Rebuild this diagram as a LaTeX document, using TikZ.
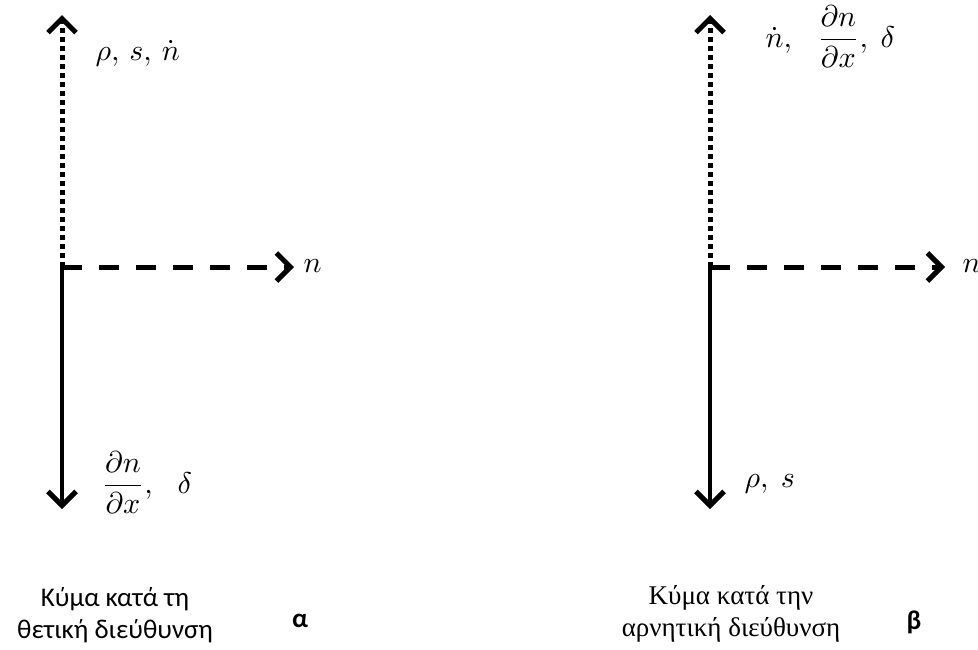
\documentclass[tikz,border=0pt]{standalone}
\usepackage{amsmath,amssymb}
\usepackage{fontspec}
\setmainfont{Liberation Serif}
\newfontfamily\capsans{Carlito}
\usetikzlibrary{calc,arrows.meta}

\begin{document}
\begin{tikzpicture}[x=1pt,y=-1pt,line join=miter,
  axe/.style={line width=4.5pt,-{Straight Barb[length=14pt,width=28pt,line width=5pt]}},
  dots/.style={axe,line width=5pt,dash pattern=on 5pt off 4pt},
  dashes/.style={axe,line width=5pt,dash pattern=on 20pt off 17pt},
  lab/.style={inner sep=0pt,scale=3,transform shape},
  capt/.style={align=center,inner sep=0pt,font=\fontsize{27}{32}\selectfont}]
\useasboundingbox (0,0) rectangle (978,649);
\coordinate (O1) at (62,267);
\coordinate (O2) at (710,267);
\coordinate (T1) at (62,15);
\coordinate (B1) at (62,509);
\coordinate (R1) at (294,267);
\coordinate (T2) at (710,15);
\coordinate (B2) at (710,509);
\coordinate (R2) at (945,267);
% left: positive direction
\draw[dots](O1)--(T1);
\draw[dashes](O1)--(R1);
\draw[axe](O1)--(B1);
\node[lab,anchor=west] (n1) at (303,266) {$n$};
\node[lab,anchor=west] (top1) at (95,53) {$\rho,\,s,\,\dot n$};
\node[lab,anchor=west] (bot1) at (101,483) {$\dfrac{\partial n}{\partial x},\ \ \,\delta$};
% right: negative direction
\draw[dots](O2)--(T2);
\draw[dashes](O2)--(R2);
\draw[axe](O2)--(B2);
\node[lab,anchor=west] (n2) at (962,266) {$n$};
\node[lab,anchor=west] (top2) at (765,37) {$\dot n,\ \ \,\dfrac{\partial n}{\partial x},\ \delta$};
\node[lab,anchor=west] (bot2) at (744,484) {$\rho,\ s$};
% captions
\node[capt,font=\fontsize{27}{32}\capsans] (cap1) at (115,615) {Κύμα κατά τη\\θετική διεύθυνση};
\node[capt] (cap2) at (731,614) {Κύμα κατά την\\αρνητική διεύθυνση};
\node[inner sep=0pt,font=\fontsize{27}{30}\capsans\bfseries] (alpha) at (300,621) {α};
\node[inner sep=0pt,font=\fontsize{27}{30}\capsans\bfseries] (beta) at (914,622) {β};
\end{tikzpicture}
\end{document}
